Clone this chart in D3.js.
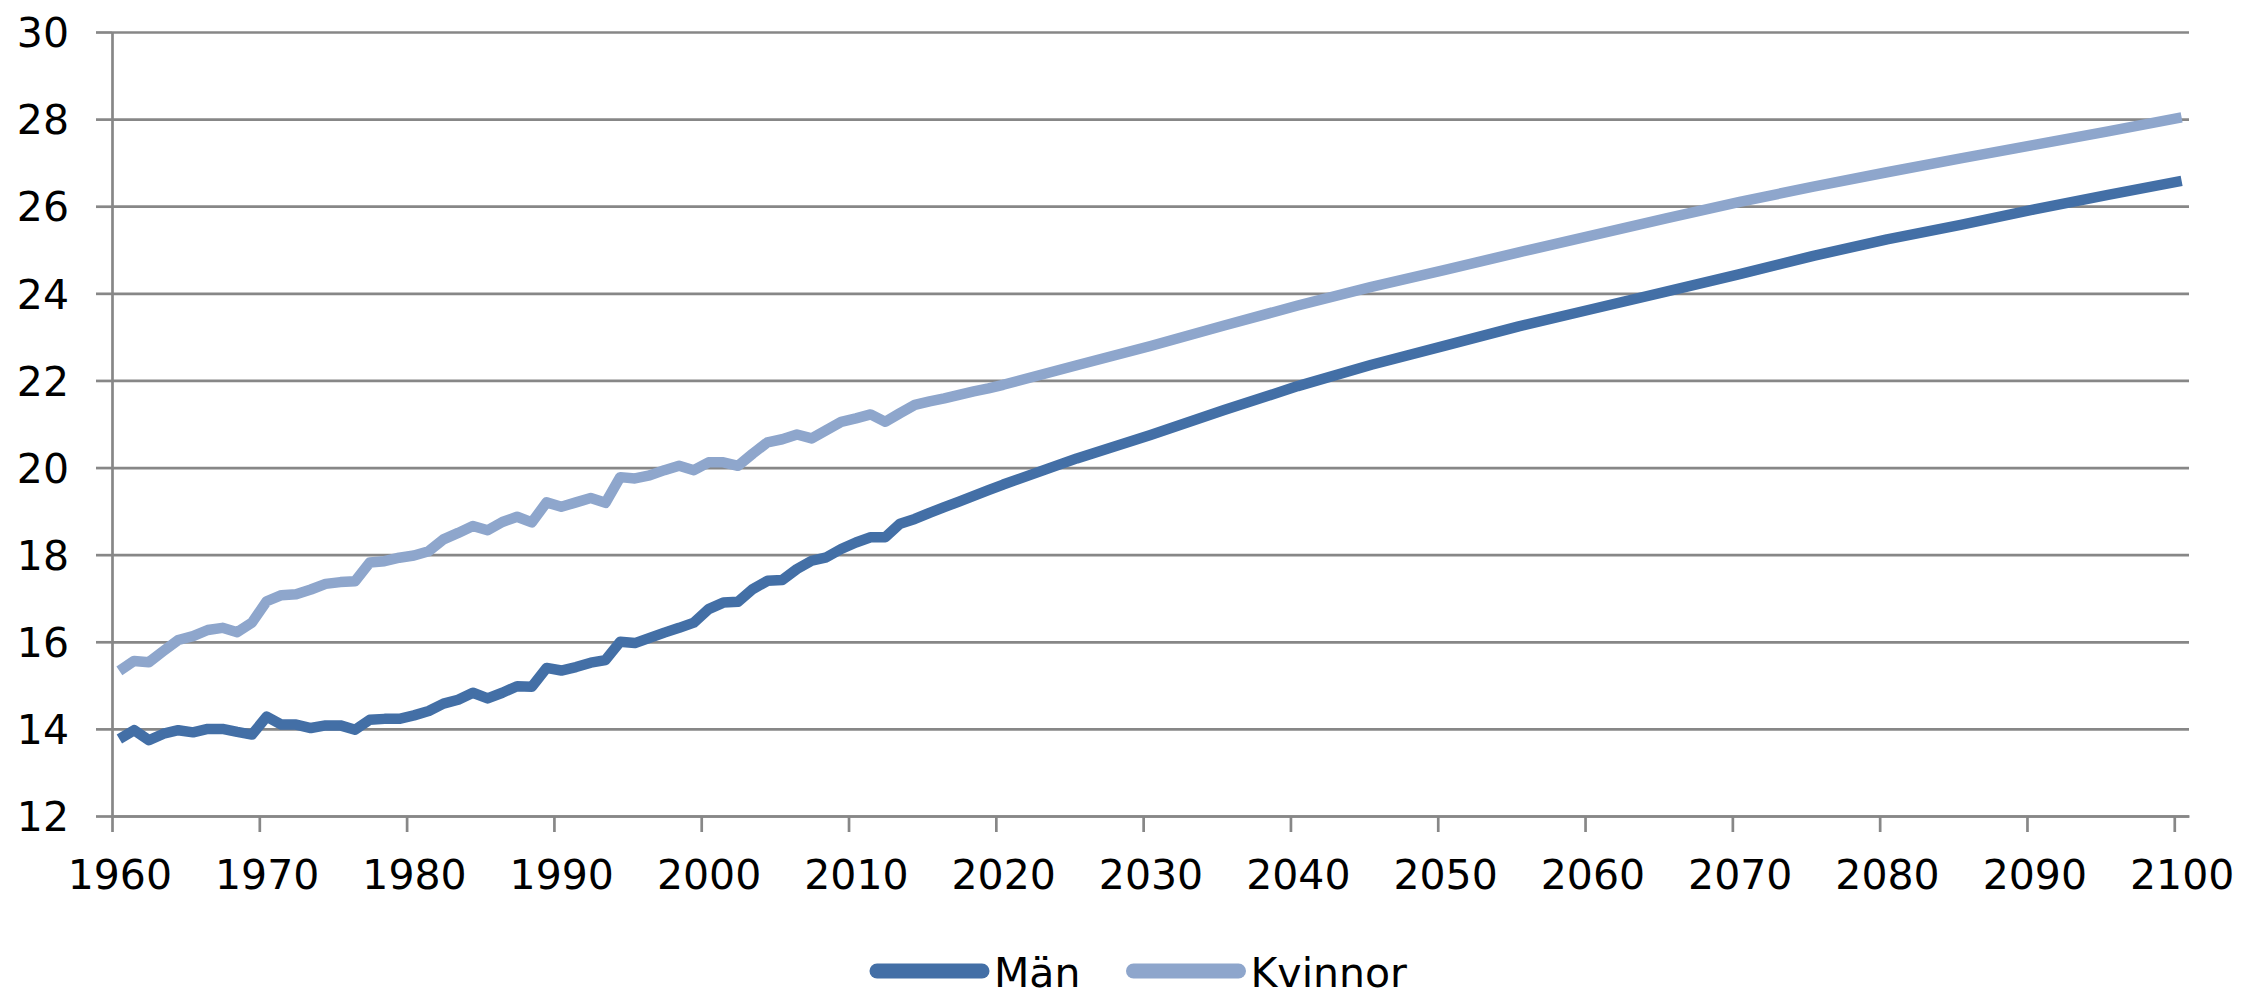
<!DOCTYPE html>
<html lang="sv">
<head>
    <meta charset="UTF-8">
    <title>Män och Kvinnor 1960-2100</title>
    <script src="https://d3js.org/d3.v7.min.js"></script>
    <style>
        html, body {
            margin: 0;
            padding: 0;
            background: white;
        }
        svg {
            display: block;
            font-family: 'DejaVu Sans', Verdana, sans-serif;
        }
    </style>
</head>
<body>
    <svg width="2242" height="997"></svg>

    <script>
        // yearly until 2020, then every 5 years
        const years = [
            1960, 1961, 1962, 1963, 1964, 1965, 1966, 1967, 1968, 1969,
            1970, 1971, 1972, 1973, 1974, 1975, 1976, 1977, 1978, 1979,
            1980, 1981, 1982, 1983, 1984, 1985, 1986, 1987, 1988, 1989,
            1990, 1991, 1992, 1993, 1994, 1995, 1996, 1997, 1998, 1999,
            2000, 2001, 2002, 2003, 2004, 2005, 2006, 2007, 2008, 2009,
            2010, 2011, 2012, 2013, 2014, 2015, 2016, 2017, 2018, 2019,
            2020, 2025, 2030, 2035, 2040, 2045, 2050, 2055, 2060, 2065,
            2070, 2075, 2080, 2085, 2090, 2095, 2100
        ];

        const man = [
            13.77, 13.97, 13.74, 13.89, 13.97, 13.92, 14.00, 14.00, 13.93, 13.87,
            14.28, 14.10, 14.10, 14.02, 14.08, 14.08, 13.98, 14.21, 14.23, 14.23,
            14.31, 14.41, 14.58, 14.67, 14.83, 14.70, 14.83, 14.98, 14.97, 15.40,
            15.34, 15.42, 15.52, 15.58, 16.00, 15.97, 16.09, 16.21, 16.32, 16.44,
            16.75, 16.90, 16.92, 17.21, 17.40, 17.42, 17.67, 17.86, 17.94, 18.13,
            18.28, 18.40, 18.40, 18.71, 18.82, 18.96, 19.09, 19.22, 19.35, 19.48,
            19.61, 20.21, 20.75, 21.32, 21.87, 22.36, 22.80, 23.24, 23.64, 24.04,
            24.44, 24.86, 25.24, 25.57, 25.93, 26.26, 26.58
        ];

        const kvinnor = [
            15.33, 15.56, 15.53, 15.79, 16.04, 16.13, 16.27, 16.32, 16.22, 16.44,
            16.93, 17.07, 17.09, 17.20, 17.33, 17.37, 17.39, 17.82, 17.85, 17.93,
            17.98, 18.08, 18.35, 18.50, 18.66, 18.56, 18.75, 18.87, 18.74, 19.20,
            19.10, 19.20, 19.30, 19.19, 19.78, 19.75, 19.82, 19.94, 20.04, 19.94,
            20.12, 20.12, 20.04, 20.32, 20.58, 20.65, 20.76, 20.67, 20.86, 21.05,
            21.13, 21.22, 21.05, 21.25, 21.44, 21.52, 21.59, 21.67, 21.75, 21.82,
            21.90, 22.35, 22.79, 23.26, 23.72, 24.15, 24.54, 24.94, 25.33, 25.72,
            26.10, 26.45, 26.78, 27.10, 27.41, 27.72, 28.04
        ];

        const yTicks = [12, 14, 16, 18, 20, 22, 24, 26, 28, 30];
        const xLabels = [1960, 1970, 1980, 1990, 2000, 2010, 2020, 2030,
                         2040, 2050, 2060, 2070, 2080, 2090, 2100];

        const series = [
            {label: "Män", values: man, color: "#436fa6"},
            {label: "Kvinnor", values: kvinnor, color: "#8ea6cc"}
        ];

        const svg = d3.select("svg"),
            plot = {left: 112, right: 2189, top: 32, bottom: 816},
            grid = "#878787",
            fontSize = 41;

        // categories sit between tick marks, like the spreadsheet axis
        const x = d3.scaleLinear()
            .domain([years[0] - 0.5, years[years.length - 1] + 0.5])
            .range([plot.left, plot.right]);

        const y = d3.scaleLinear()
            .domain([12, 30])
            .range([plot.bottom, plot.top]);

        // y axis + gridlines
        svg.append("g")
            .attr("transform", `translate(${plot.left},0)`)
            .call(d3.axisLeft(y).tickValues(yTicks).tickSizeInner(16).tickSizeOuter(0).tickPadding(27))
            .call(g => g.selectAll(".domain").attr("stroke", grid).attr("stroke-width", 2.7))
            .call(g => g.selectAll(".tick line")
                .attr("stroke", grid)
                .attr("stroke-width", 2.7)
                .clone()
                .attr("x1", 0)
                .attr("x2", plot.right - plot.left))
            .call(g => g.selectAll(".tick text")
                .attr("fill", "black")
                .attr("dy", "0.36em")
                .style("font-size", fontSize + "px")
                .style("font-family", "'DejaVu Sans', Verdana, sans-serif"));

        // x axis tick marks on category boundaries
        svg.append("g")
            .attr("transform", `translate(0,${plot.bottom})`)
            .call(d3.axisBottom(x)
                .tickValues(xLabels.map(d => d - 0.5))
                .tickSizeInner(16).tickSizeOuter(0)
                .tickFormat(""))
            .call(g => g.selectAll(".domain").attr("stroke", grid).attr("stroke-width", 2.7))
            .call(g => g.selectAll(".tick line").attr("stroke", grid).attr("stroke-width", 2.7));

        // x labels centred on their category
        svg.append("g")
            .attr("transform", `translate(0,${plot.bottom})`)
            .call(d3.axisBottom(x).tickValues(xLabels).tickSize(0).tickFormat(d3.format("d")))
            .call(g => g.select(".domain").remove())
            .call(g => g.selectAll(".tick text")
                .attr("y", 73)
                .attr("dy", 0)
                .attr("fill", "black")
                .style("font-size", fontSize + "px")
                .style("font-family", "'DejaVu Sans', Verdana, sans-serif"));

        const line = d3.line()
            .x((d, i) => x(years[i]))
            .y(d => y(d));

        series.forEach(s => {
            svg.append("path")
                .datum(s.values)
                .attr("fill", "none")
                .attr("stroke", s.color)
                .attr("stroke-width", 10.5)
                .attr("stroke-linejoin", "round")
                .attr("d", line);
        });

        // legend
        const legend = svg.append("g")
            .attr("transform", "translate(870, 971)");

        let offset = 0;
        series.forEach(s => {
            legend.append("line")
                .attr("x1", offset + 7)
                .attr("x2", offset + 112)
                .attr("y1", 0)
                .attr("y2", 0)
                .attr("stroke", s.color)
                .attr("stroke-width", 15)
                .attr("stroke-linecap", "round");

            const t = legend.append("text")
                .attr("x", offset + 124)
                .attr("y", 16)
                .attr("fill", "black")
                .style("font-size", fontSize + "px")
                .text(s.label);

            offset += 124 + t.node().getComputedTextLength() + 46;
        });
    </script>
</body>
</html>
